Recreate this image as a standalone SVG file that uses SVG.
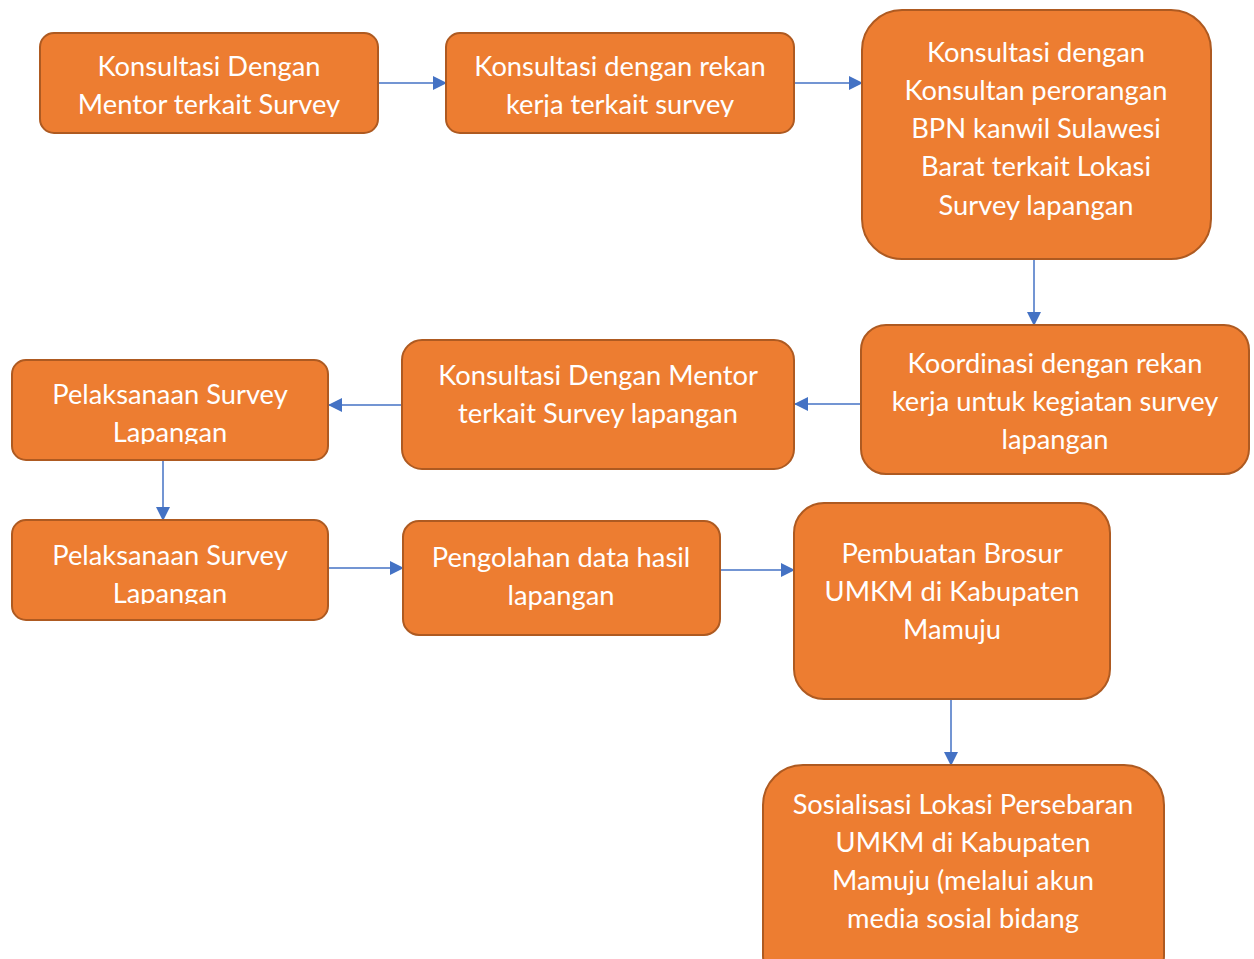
<svg xmlns="http://www.w3.org/2000/svg" width="1254" height="959" viewBox="0 0 1254 959">
<style>
.box{fill:#ED7D31;stroke:#AE5A21;stroke-width:2}
.t{font-family:Lato,"Open Sans","Liberation Sans",sans-serif;font-size:27.3px;fill:#FFFFFF;text-anchor:middle}
.c{stroke:#4472C4;stroke-width:1.5;fill:none;marker-end:url(#ah)}
</style>
<defs>
<marker id="ah" markerWidth="14" markerHeight="14" refX="13" refY="7" orient="auto" markerUnits="userSpaceOnUse">
<path d="M0,0 L14,7 L0,14 Z" fill="#4472C4"/>
</marker>
<clipPath id="cA"><rect x="40" y="33" width="338" height="84"/></clipPath>
<clipPath id="cB"><rect x="446" y="33" width="348" height="84"/></clipPath>
<clipPath id="cF"><rect x="12" y="360" width="316" height="84"/></clipPath>
<clipPath id="cG"><rect x="12" y="520" width="316" height="84"/></clipPath>
</defs>
<rect width="1254" height="959" fill="#FFFFFF"/>
<g id="connectors">
<line class="c" x1="378" y1="83" x2="446" y2="83"/>
<line class="c" x1="794" y1="83" x2="862" y2="83"/>
<line class="c" x1="1034" y1="259" x2="1034" y2="325"/>
<line class="c" x1="861" y1="404" x2="795" y2="404"/>
<line class="c" x1="402" y1="405" x2="329" y2="405"/>
<line class="c" x1="163" y1="460" x2="163" y2="520"/>
<line class="c" x1="328" y1="568" x2="403" y2="568"/>
<line class="c" x1="720" y1="570" x2="794" y2="570"/>
<line class="c" x1="951" y1="699" x2="951" y2="765"/>
</g>
<g id="nodeA">
<rect class="box" x="40" y="33" width="338" height="100" rx="14"/>
<g clip-path="url(#cA)"><text class="t" x="209" y="76">Konsultasi Dengan</text><text class="t" x="209" y="114">Mentor terkait Survey</text></g>
</g>
<g id="nodeB">
<rect class="box" x="446" y="33" width="348" height="100" rx="14"/>
<g clip-path="url(#cB)"><text class="t" x="620" y="76">Konsultasi dengan rekan</text><text class="t" x="620" y="114">kerja terkait survey</text></g>
</g>
<g id="nodeC">
<rect class="box" x="862" y="10" width="349" height="249" rx="40"/>
<text class="t" x="1036" y="61.5">Konsultasi dengan</text>
<text class="t" x="1036" y="99.8">Konsultan perorangan</text>
<text class="t" x="1036" y="138">BPN kanwil Sulawesi</text>
<text class="t" x="1036" y="176.3">Barat terkait Lokasi</text>
<text class="t" x="1036" y="214.5">Survey lapangan</text>
</g>
<g id="nodeD">
<rect class="box" x="861" y="325" width="388" height="149" rx="25"/>
<text class="t" x="1055" y="372.5">Koordinasi dengan rekan</text>
<text class="t" x="1055" y="410.5">kerja untuk kegiatan survey</text>
<text class="t" x="1055" y="448.5">lapangan</text>
</g>
<g id="nodeE">
<rect class="box" x="402" y="340" width="392" height="129" rx="20"/>
<text class="t" x="598" y="385">Konsultasi Dengan Mentor</text>
<text class="t" x="598" y="423">terkait Survey lapangan</text>
</g>
<g id="nodeF">
<rect class="box" x="12" y="360" width="316" height="100" rx="14"/>
<g clip-path="url(#cF)"><text class="t" x="170" y="404">Pelaksanaan Survey</text><text class="t" x="170" y="442">Lapangan</text></g>
</g>
<g id="nodeG">
<rect class="box" x="12" y="520" width="316" height="100" rx="14"/>
<g clip-path="url(#cG)"><text class="t" x="170" y="565">Pelaksanaan Survey</text><text class="t" x="170" y="602.5">Lapangan</text></g>
</g>
<g id="nodeH">
<rect class="box" x="403" y="521" width="317" height="114" rx="16"/>
<text class="t" x="561" y="566.5">Pengolahan data hasil</text>
<text class="t" x="561" y="604.5">lapangan</text>
</g>
<g id="nodeI">
<rect class="box" x="794" y="503" width="316" height="196" rx="30"/>
<text class="t" x="952" y="562.5">Pembuatan Brosur</text>
<text class="t" x="952" y="600.5">UMKM di Kabupaten</text>
<text class="t" x="952" y="638.5">Mamuju</text>
</g>
<g id="nodeJ">
<rect class="box" x="763" y="765" width="401" height="230" rx="40"/>
<text class="t" x="963" y="814">Sosialisasi Lokasi Persebaran</text>
<text class="t" x="963" y="852">UMKM di Kabupaten</text>
<text class="t" x="963" y="890">Mamuju (melalui akun</text>
<text class="t" x="963" y="928">media sosial bidang</text>
</g>
</svg>
